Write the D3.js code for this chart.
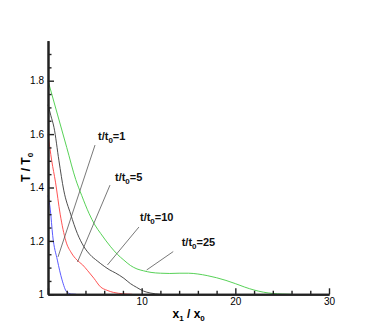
<!DOCTYPE html>
<html>
<head>
<meta charset="utf-8">
<script src="https://cdn.jsdelivr.net/npm/d3@7"></script>
<style>
  html, body { margin: 0; padding: 0; background: #fff; }
</style>
</head>
<body>
<div id="chart"></div>
<script>
// Temperature profiles T/T0 against x1/x0 at four times t/t0

const blueX  = [0, 0.25, 0.5, 1, 1.5, 2, 2.5, 3];
const blueT  = [1.37, 1.316, 1.22, 1.128, 1.054, 1.009, 1.001, 1.0];

const redX   = [0, 0.4, 0.8, 1.3, 1.9, 2.5, 3.1, 3.7, 4.2, 4.9, 5.6, 6.3, 7, 8, 9];
const redT   = [1.6, 1.5, 1.42, 1.30, 1.2, 1.155, 1.128, 1.11, 1.09, 1.06, 1.028, 1.015, 1.007, 1.002, 1.0];

const grayX  = [0, 0.3, 0.64, 1.17, 1.68, 2.42, 3.13, 3.84, 4.5, 5.26, 6, 6.6, 7.2, 8.1, 8.8, 9.46, 10.2, 10.9, 12];
const grayT  = [1.71, 1.67, 1.625, 1.50, 1.39, 1.30, 1.228, 1.178, 1.148, 1.125, 1.105, 1.091, 1.08, 1.06, 1.04, 1.026, 1.012, 1.005, 1.0];

const greenX = [0, 1, 2, 2.96, 3.6, 4.38, 5, 5.62, 6.2, 6.69, 7.4, 8.1, 8.8, 9.5, 10.2, 11, 12, 13, 14, 15, 16, 17, 18, 19, 20, 21, 22, 23, 24, 25, 26];
const greenT = [1.8, 1.675, 1.55, 1.43, 1.37, 1.303, 1.26, 1.228, 1.2, 1.178, 1.15, 1.128, 1.108, 1.095, 1.088, 1.082, 1.079, 1.078, 1.079, 1.079, 1.076, 1.07, 1.062, 1.052, 1.04, 1.027, 1.016, 1.008, 1.003, 1.001, 1.0];

const seriesColors = ["#4848ff", "#ff4040", "#3a3a3a", "#44cc44"];

// labels: t/t0 value, text anchor point and leader line (data coords)
const labelTimes  = ["1", "5", "10", "25"];
const labelPos    = [[5.34, 1.578], [7.15, 1.426], [9.82, 1.274], [14.27, 1.182]];
const leaderFrom  = [[5.02, 1.559], [6.62, 1.409], [9.71, 1.252], [13.37, 1.160]];
const leaderTo    = [[1.07, 1.14],  [3.15, 1.121], [6.35, 1.110], [10.53, 1.091]];

const xMajor = [0, 10, 20, 30];
const xMinor = d3.range(2, 30, 2).filter(v => v % 10 !== 0);
const yMajor = [1, 1.2, 1.4, 1.6, 1.8];
const yMinor = d3.range(1.05, 1.93, 0.05).filter(v => Math.abs(Math.round(v * 5) - v * 5) > 0.01);

const W = 374, H = 332;
const margin = { top: 40.65, right: 45, bottom: 37.7, left: 48 };
const iW = W - margin.left - margin.right;
const iH = H - margin.top - margin.bottom;

const svg = d3.select("#chart").append("svg")
  .attr("width", W).attr("height", H)
  .style("font-family", "'Liberation Sans', Arial, sans-serif");

const g = svg.append("g").attr("transform", `translate(${margin.left},${margin.top})`);

const x = d3.scaleLinear().domain([0, 30]).range([0, iW]);
const y = d3.scaleLinear().domain([1, 1.95]).range([iH, 0]);

// curves
const line = d3.line().x(d => x(d[0])).y(d => y(d[1])).curve(d3.curveMonotoneX);
[[blueX, blueT], [redX, redT], [grayX, grayT], [greenX, greenT]].forEach(([xs, ts], i) => {
  g.append("path")
    .attr("d", line(xs.map((v, j) => [v, ts[j]])))
    .attr("fill", "none")
    .attr("stroke", seriesColors[i])
    .attr("stroke-width", 0.9);
});

// leader lines + labels
labelTimes.forEach((t, i) => {
  g.append("line")
    .attr("x1", x(leaderFrom[i][0])).attr("y1", y(leaderFrom[i][1]))
    .attr("x2", x(leaderTo[i][0])).attr("y2", y(leaderTo[i][1]))
    .attr("stroke", "#555").attr("stroke-width", 0.8);

  const txt = g.append("text")
    .attr("x", x(labelPos[i][0])).attr("y", y(labelPos[i][1]))
    .attr("font-size", 11).attr("font-weight", "bold").attr("fill", "#111");
  txt.append("tspan").text("t/t");
  txt.append("tspan").attr("dy", 3).attr("font-size", 8).text("0");
  txt.append("tspan").attr("dy", -3).text("=" + t);
});

// axes: minor ticks, then major ticks with labels
function styleAxis(sel) {
  sel.select(".domain").attr("stroke", "#222").attr("stroke-width", 2);
  sel.selectAll(".tick line").attr("stroke", "#222").attr("stroke-width", 1.4);
  sel.selectAll(".tick text").attr("fill", "#000").attr("font-size", 10)
    .attr("font-family", "'Liberation Sans', Arial, sans-serif");
}

g.append("g")
  .call(d3.axisLeft(y).tickValues(yMinor).tickSize(-3.5).tickSizeOuter(0).tickFormat(""))
  .call(styleAxis);
g.append("g")
  .call(d3.axisLeft(y).tickValues(yMajor).tickSize(-6).tickSizeOuter(0).tickPadding(4)
    .tickFormat(d3.format("~g")))
  .call(styleAxis);

g.append("g").attr("transform", `translate(0,${iH})`)
  .call(d3.axisBottom(x).tickValues(xMinor).tickSize(-3.5).tickSizeOuter(0).tickFormat(""))
  .call(styleAxis);
g.append("g").attr("transform", `translate(0,${iH})`)
  .call(d3.axisBottom(x).tickValues(xMajor).tickSize(-6).tickSizeOuter(0).tickPadding(3.5)
    .tickFormat(d => d === 0 ? "" : d))
  .call(styleAxis);

// axis titles
const xt = svg.append("text")
  .attr("x", margin.left + x(15) - 16).attr("y", 318)
  .attr("font-size", 12).attr("font-weight", "bold");
xt.append("tspan").text("x");
xt.append("tspan").attr("dy", 3).attr("font-size", 8).text("1");
xt.append("tspan").attr("dy", -3).text(" / x");
xt.append("tspan").attr("dy", 3).attr("font-size", 8).text("0");

const yt = svg.append("text")
  .attr("transform", "translate(30,182) rotate(-90)")
  .attr("font-size", 12).attr("font-weight", "bold");
yt.append("tspan").text("T / T");
yt.append("tspan").attr("dy", 3).attr("font-size", 8).text("0");
</script>
</body>
</html>
